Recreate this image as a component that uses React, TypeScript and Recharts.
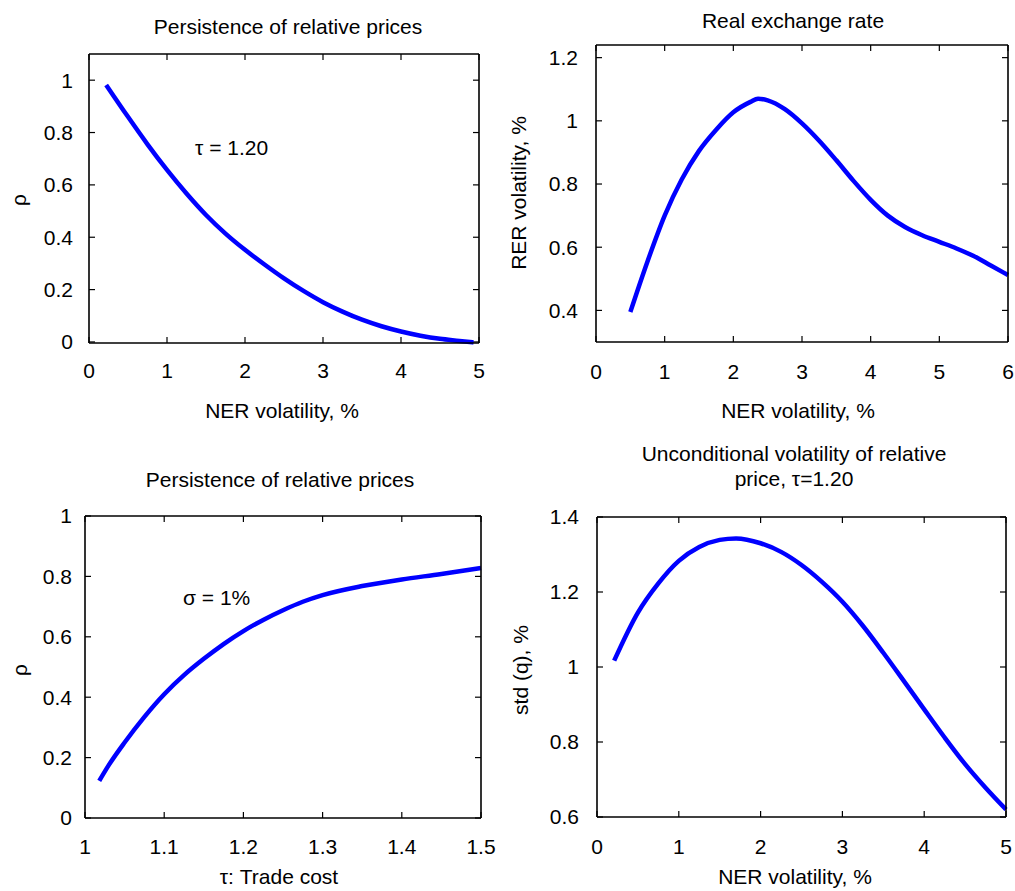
import React from "react";
import { LineChart, Line, XAxis, YAxis, ReferenceLine } from "recharts";

const FONT = '"Liberation Sans", Arial, Helvetica, sans-serif';
const FS = 21;
const TICK_LEN = 6;

// top left: persistence of relative prices vs NER volatility (tau = 1.20)
const nerVolA = [0.22, 0.5, 0.75, 1, 1.25, 1.5, 1.75, 2, 2.25, 2.5, 2.75, 3, 3.25, 3.5, 3.75, 4, 4.25, 4.5, 4.75, 4.93];
const rhoA = [0.982, 0.86, 0.755, 0.657, 0.567, 0.485, 0.414, 0.352, 0.296, 0.243, 0.195, 0.152, 0.116, 0.085, 0.06, 0.04, 0.024, 0.012, 0.004, -0.002];

// top right: real exchange rate volatility
const nerVolB = [0.5, 0.75, 1, 1.25, 1.5, 1.75, 2, 2.25, 2.36, 2.5, 2.75, 3, 3.25, 3.5, 3.75, 4, 4.25, 4.5, 4.75, 5, 5.25, 5.5, 5.75, 6];
const rerVol = [0.395, 0.555, 0.7, 0.815, 0.905, 0.972, 1.027, 1.06, 1.07, 1.065, 1.037, 0.992, 0.937, 0.875, 0.81, 0.75, 0.7, 0.664, 0.638, 0.617, 0.596, 0.572, 0.542, 0.512];

// bottom left: persistence vs trade cost (sigma = 1%)
const tradeCost = [1.018, 1.03, 1.05, 1.075, 1.1, 1.125, 1.15, 1.175, 1.2, 1.225, 1.25, 1.275, 1.3, 1.35, 1.4, 1.45, 1.5];
const rhoC = [0.123, 0.175, 0.25, 0.335, 0.41, 0.473, 0.527, 0.576, 0.619, 0.656, 0.688, 0.716, 0.738, 0.768, 0.79, 0.808, 0.828];

// bottom right: unconditional volatility of relative price
const nerVolD = [0.21, 0.5, 0.75, 1, 1.25, 1.5, 1.7, 2, 2.25, 2.5, 2.75, 3, 3.25, 3.5, 3.75, 4, 4.25, 4.5, 4.75, 5];
const stdQ = [1.017, 1.145, 1.223, 1.283, 1.32, 1.339, 1.343, 1.33, 1.307, 1.272, 1.227, 1.174, 1.11, 1.038, 0.963, 0.887, 0.812, 0.741, 0.678, 0.62];

const ticks0to5 = [0, 1, 2, 3, 4, 5];
const ticks0to6 = [0, 1, 2, 3, 4, 5, 6];
const ticksTau = [1, 1.1, 1.2, 1.3, 1.4, 1.5];
const ticksRho1 = [0, 0.2, 0.4, 0.6, 0.8, 1];
const ticksRer = [0.4, 0.6, 0.8, 1, 1.2];
const ticksStd = [0.6, 0.8, 1, 1.2, 1.4];

const zip = (xs: number[], ys: number[]) => xs.map((x, i) => ({ x, y: ys[i] }));

function Panel(p: any) {
  const frame = { stroke: "#000", strokeWidth: 1.6 };
  const tickStyle = { fill: "#000", fontSize: FS, fontFamily: FONT };
  const plotW = p.width - p.margin.left - p.margin.right - 60;
  const plotH = p.height - p.margin.top - p.margin.bottom - 40;
  const [x0, x1] = p.xDomain;
  const [y0, y1] = p.yDomain;
  // tick length converted to data units so the marks go through the axis scales
  const dy = ((y1 - y0) * TICK_LEN) / plotH;
  const dx = ((x1 - x0) * TICK_LEN) / plotW;

  const marks: any[] = [];
  p.xTicks.forEach((t: number) => {
    marks.push([{ x: t, y: y0 }, { x: t, y: y0 + dy }]);
    marks.push([{ x: t, y: y1 }, { x: t, y: y1 - dy }]);
  });
  p.yTicks.forEach((t: number) => {
    marks.push([{ x: x0, y: t }, { x: x0 + dx, y: t }]);
    marks.push([{ x: x1, y: t }, { x: x1 - dx, y: t }]);
  });

  return (
    <div style={{ position: "absolute", left: p.left, top: p.top }}>
      <LineChart width={p.width} height={p.height} data={p.data} margin={p.margin}>
        <XAxis xAxisId="b" dataKey="x" type="number" domain={p.xDomain} ticks={p.xTicks}
          tickLine={false} tickSize={0} tickMargin={p.gapX} axisLine={frame} tick={tickStyle} height={40} interval={0} />
        <XAxis xAxisId="t" dataKey="x" orientation="top" type="number" domain={p.xDomain} ticks={p.xTicks} allowDataOverflow
          mirror tick={false} tickLine={false} axisLine={frame} />
        <YAxis yAxisId="l" type="number" domain={p.yDomain} ticks={p.yTicks} width={60}
          tickLine={false} tickSize={0} tickMargin={p.gapY} axisLine={frame} tick={tickStyle} interval={0} />
        <YAxis yAxisId="r" orientation="right" type="number" domain={p.yDomain} ticks={p.yTicks} allowDataOverflow
          mirror tick={false} tickLine={false} axisLine={frame} />
        {marks.map((seg, i) => (
          <ReferenceLine key={i} xAxisId="b" yAxisId="l" segment={seg} stroke="#000" strokeWidth={1.2} ifOverflow="visible" />
        ))}
        <Line xAxisId="b" yAxisId="l" dataKey="y" type="monotone" stroke="#0000ff" strokeWidth={4.5}
          dot={false} activeDot={false} isAnimationActive={false} />
      </LineChart>
    </div>
  );
}

function Txt({ x, y, children, rotate, anchor }: any) {
  return (
    <div
      style={{
        position: "absolute",
        left: x,
        top: y,
        transform: `translate(${anchor === "start" ? "0" : "-50%"}, -50%)${rotate ? " rotate(-90deg)" : ""}`,
        whiteSpace: "nowrap",
        fontFamily: FONT,
        fontSize: FS,
        color: "#000",
        lineHeight: 1.2,
        textAlign: "center",
      }}
    >
      {children}
    </div>
  );
}

export default function App() {
  return (
    <div style={{ position: "absolute", left: 0, top: 0, width: 1015, height: 891, background: "#fff", overflow: "hidden" }}>
      <Panel left={0} top={0} width={500} height={440} data={zip(nerVolA, rhoA)}
        margin={{ left: 29, right: 21, top: 54, bottom: 57 }}
        xDomain={[0, 5]} xTicks={ticks0to5} yDomain={[-0.004, 1.1]} yTicks={ticksRho1} gapX={20} gapY={16} />
      <Panel left={500} top={0} width={515} height={440} data={zip(nerVolB, rerVol)}
        margin={{ left: 36, right: 7, top: 45, bottom: 58 }}
        xDomain={[0, 6]} xTicks={ticks0to6} yDomain={[0.3, 1.24]} yTicks={ticksRer} gapX={22} gapY={18} />
      <Panel left={0} top={440} width={500} height={451} data={zip(tradeCost, rhoC)}
        margin={{ left: 25, right: 19, top: 76, bottom: 33 }}
        xDomain={[1, 1.5]} xTicks={ticksTau} yDomain={[0, 1]} yTicks={ticksRho1} gapX={21} gapY={13} />
      <Panel left={500} top={440} width={515} height={451} data={zip(nerVolD, stdQ)}
        margin={{ left: 37, right: 9, top: 77, bottom: 34 }}
        xDomain={[0, 5]} xTicks={ticks0to5} yDomain={[0.6, 1.4]} yTicks={ticksStd} gapX={22} gapY={18} />

      <Txt x={288} y={27}>Persistence of relative prices</Txt>
      <Txt x={793} y={21}>Real exchange rate</Txt>
      <Txt x={280} y={480}>Persistence of relative prices</Txt>
      <Txt x={794} y={466}>Unconditional volatility of relative<br />price, τ=1.20</Txt>

      <Txt x={282} y={411}>NER volatility, %</Txt>
      <Txt x={798} y={411}>NER volatility, %</Txt>
      <Txt x={279} y={877}>τ: Trade cost</Txt>
      <Txt x={795} y={877}>NER volatility, %</Txt>

      <Txt x={19} y={200} rotate>ρ</Txt>
      <Txt x={519} y={193} rotate>RER volatility, %</Txt>
      <Txt x={20} y={670} rotate>ρ</Txt>
      <Txt x={521} y={670} rotate>std (q), %</Txt>

      <Txt x={195} y={148} anchor="start">τ = 1.20</Txt>
      <Txt x={183} y={598} anchor="start">σ = 1%</Txt>
    </div>
  );
}
